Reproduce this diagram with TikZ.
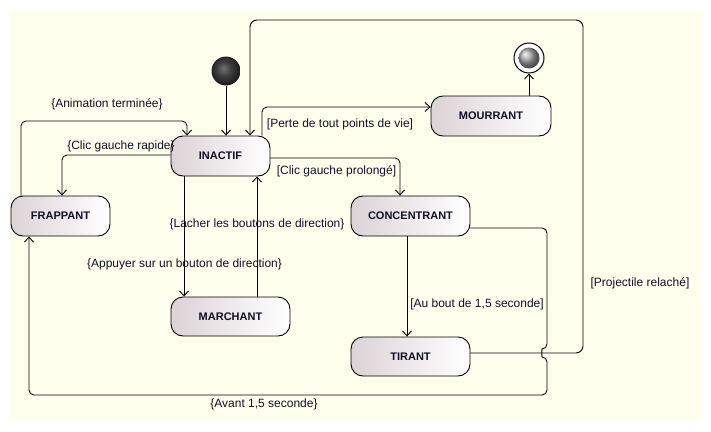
\documentclass[tikz,border=0pt]{standalone}
\usepackage{fontspec}
\setmainfont{Liberation Sans}
\usetikzlibrary{arrows.meta,shadings}
\definecolor{bgcream}{RGB}{255,255,238}
\definecolor{txt}{RGB}{16,16,40}
\definecolor{stateleft}{RGB}{220,211,214}
\pgfdeclareradialshading{initball}{\pgfpoint{-5bp}{5bp}}{%
  color(0bp)=(black!55); color(12bp)=(black!75); color(25bp)=(black!88); color(50bp)=(black!90)}
\tikzset{
  statebox/.style={draw=black, line width=0.9pt, rounded corners=12pt,
    left color=stateleft, right color=white, text=txt,
    font=\fontsize{11}{13}\selectfont\bfseries, inner sep=0pt},
  lbl/.style={text=txt, font=\fontsize{12}{14}\selectfont, inner sep=0pt},
  conn/.style={draw=black, line width=0.9pt, rounded corners=5pt},
  arr/.style={conn, -{Straight Barb[length=5pt,width=9pt]}},
}
\begin{document}
\begin{tikzpicture}[x=1pt,y=-1pt]
\useasboundingbox (0,0) rectangle (711,431);
\fill[bgcream] (10,10) rectangle (701,421);

% states
\node[statebox, minimum width=99pt, minimum height=40pt] (inactif) at (220.5,156) {INACTIF};
\node[statebox, minimum width=99pt, minimum height=40pt] (frappant) at (60.5,216) {FRAPPANT};
\node[statebox, minimum width=119pt, minimum height=39pt] (marchant) at (230.5,316.5) {MARCHANT};
\node[statebox, minimum width=120pt, minimum height=40pt] (mourrant) at (491,116) {MOURRANT};
\node[statebox, minimum width=119pt, minimum height=40pt] (concentrant) at (410.5,216) {CONCENTRANT};
\node[statebox, minimum width=119pt, minimum height=39pt] (tirant) at (410.5,356.5) {TIRANT};

% initial and final
\node[circle, minimum size=29pt, inner sep=0pt, shading=initball] (init) at (226,71) {};
\node[circle, draw=black, line width=1pt, fill=white, minimum size=30pt, inner sep=0pt] (final) at (529,58) {};
\shade[ball color=black!35] (final.center) circle[radius=10.5];

% connectors
\draw[arr] (init.south) -- (init.south |- inactif.north);
\draw[arr] (frappant.north -| 21,0) |- (187,121) -- (inactif.north -| 187,0);
\draw[arr] (inactif.west |- 0,155) -| (frappant.north -| 62,0);
\draw[arr, rounded corners=7pt] (tirant.east |- 0,353) -| (583,20) -| (inactif.north -| 250,0);
\draw[arr] (inactif.north -| 262,0) |- (mourrant.west |- 0,107);
\draw[arr] (mourrant.north -| final) -- (final.south);
\draw[arr] (inactif.east |- 0,158) -| (concentrant.north -| 400,0);
\draw[arr] (inactif.south -| 184,0) -- (marchant.north -| 184,0);
\draw[arr] (marchant.north -| 257,0) -- (inactif.south -| 257,0);
\draw[arr] (concentrant.south -| 407,0) -- (tirant.north -| 407,0);
\draw[arr] (concentrant.east |- 0,228) -| (547,349)
  .. controls (541.7,349) and (541.7,357) .. (547,357)
  |- (29,395) -- (frappant.south -| 29,0);

% labels
\node[lbl] (l1) at (107,104) {\{Animation terminée\}};
\node[lbl] (l2) at (121,146) {\{Clic gauche rapide\}};
\node[lbl] (l3) at (640,283) {[Projectile relaché]};
\node[lbl] (l4) at (340,124) {[Perte de tout points de vie]};
\node[lbl] (l5) at (336.5,171) {[Clic gauche prolongé]};
\node[lbl] (l6) at (184.5,264) {\{Appuyer sur un bouton de direction\}};
\node[lbl] (l7) at (257,224) {\{Lacher les boutons de direction\}};
\node[lbl] (l8) at (477,304) {[Au bout de 1,5 seconde]};
\node[lbl] (l9) at (264,404) {\{Avant 1,5 seconde\}};
\end{tikzpicture}
\end{document}
